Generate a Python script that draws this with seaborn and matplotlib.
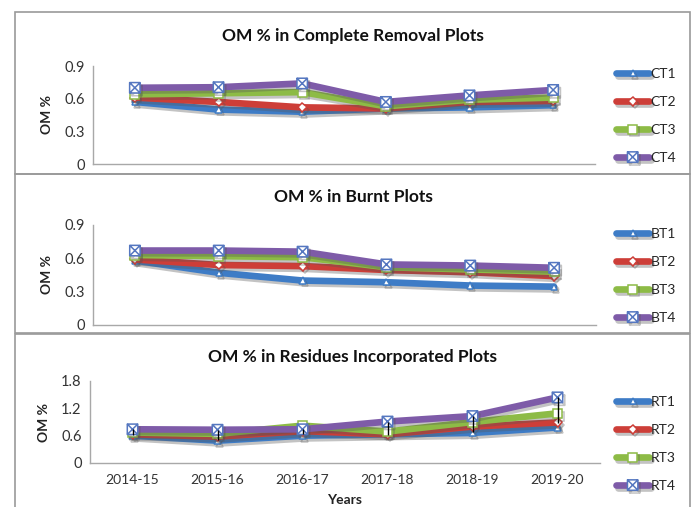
import numpy as np
import pandas as pd
import matplotlib
matplotlib.use("Agg")
import matplotlib.pyplot as plt
import matplotlib.patheffects as pe
from matplotlib.path import Path
from matplotlib.patches import Rectangle
import seaborn as sns

# ---------------- data ----------------
years = ["2014-15", "2015-16", "2016-17", "2017-18", "2018-19", "2019-20"]

ct1 = [0.57, 0.50, 0.48, 0.51, 0.52, 0.54]
ct2 = [0.61, 0.57, 0.52, 0.51, 0.57, 0.58]
ct3 = [0.64, 0.65, 0.66, 0.53, 0.59, 0.61]
ct4 = [0.70, 0.705, 0.74, 0.57, 0.63, 0.68]

bt1 = [0.58, 0.47, 0.40, 0.385, 0.355, 0.345]
bt2 = [0.59, 0.54, 0.53, 0.495, 0.475, 0.44]
bt3 = [0.63, 0.62, 0.61, 0.52, 0.50, 0.48]
bt4 = [0.67, 0.67, 0.66, 0.545, 0.535, 0.515]

rt1 = [0.60, 0.49, 0.60, 0.63, 0.66, 0.78]
rt2 = [0.63, 0.58, 0.70, 0.63, 0.80, 0.89]
rt3 = [0.67, 0.64, 0.82, 0.69, 0.90, 1.09]
rt4 = [0.74, 0.73, 0.74, 0.91, 1.03, 1.44]
rt4_err_low = [0.13, 0.22, 0.10, 0.30, 0.35, 0.56]

panels = [
    ("OM % in Complete Removal Plots", ["CT1", "CT2", "CT3", "CT4"], [ct1, ct2, ct3, ct4], [0, 0.3, 0.6, 0.9]),
    ("OM % in Burnt Plots", ["BT1", "BT2", "BT3", "BT4"], [bt1, bt2, bt3, bt4], [0, 0.3, 0.6, 0.9]),
    ("OM % in Residues Incorporated Plots", ["RT1", "RT2", "RT3", "RT4"], [rt1, rt2, rt3, rt4], [0, 0.6, 1.2, 1.8]),
]
ytick_labels = [["0", "0.3", "0.6", "0.9"], ["0", "0.3", "0.6", "0.9"], ["0", "0.6", "1.2", "1.8"]]

# ---------------- style ----------------
sns.set_theme(style="white")
plt.rcParams["font.family"] = ["Lato", "DejaVu Sans"]

colors = ["#3E7CC6", "#CD3E38", "#8DBB46", "#7E5BA8"]
boxx = Path([(-1, -1), (1, -1), (1, 1), (-1, 1), (-1, -1), (-1, -1), (1, 1), (-1, 1), (1, -1)],
            [Path.MOVETO, Path.LINETO, Path.LINETO, Path.LINETO, Path.CLOSEPOLY,
             Path.MOVETO, Path.LINETO, Path.MOVETO, Path.LINETO])
markers = ["^", "D", "s", boxx]
msizes = [4.5, 4.5, 6.5, 7.5]
medges = ["#3E7CC6", "#CD3E38", "#8DBB46", "#5577C0"]

W, H = 692, 507
fig = plt.figure(figsize=(W / 100, H / 100), dpi=100)


def px_axes(l, t, r, b):
    return fig.add_axes([l / W, 1 - b / H, (r - l) / W, (b - t) / H])


# panel frames
for (t, b) in [(12, 174), (174, 333), (334, 520)]:
    fig.patches.append(Rectangle((15 / W, 1 - b / H), (690 - 15) / W, (b - t) / H,
                                 transform=fig.transFigure, fill=False,
                                 edgecolor="#9A9A9A", lw=1.2, zorder=0))

axes_px = [(93, 66, 595, 164), (93, 225, 596, 325), (90, 381, 600, 463)]
title_y = [36, 197, 357]
legend_top = [68, 228, 396]

shadow = [pe.SimpleLineShadow(offset=(1.5, -2.0), shadow_color="#555555", alpha=0.35), pe.Normal()]

for i, (title, names, series, yt) in enumerate(panels):
    ax = px_axes(*axes_px[i])
    for j, (nm, vals) in enumerate(zip(names, series)):
        df = pd.DataFrame({"Year": years, "OM": vals})
        sns.lineplot(data=df, x="Year", y="OM", ax=ax, sort=False, color=colors[j],
                     lw=4.8, marker=markers[j], markersize=msizes[j],
                     markerfacecolor="white", markeredgecolor=medges[j],
                     markeredgewidth=1.1, label=nm, path_effects=shadow, zorder=2 + j)
    if i == 2:
        ax.errorbar(np.arange(len(years)), rt4, yerr=[rt4_err_low, [0] * len(years)],
                    fmt="none", ecolor="black", elinewidth=1.0, capsize=0, zorder=10)
    ax.set_xlim(-0.5, len(years) - 0.5)
    ax.set_ylim(yt[0], yt[-1])
    ax.set_yticks(yt)
    ax.set_yticklabels(ytick_labels[i], fontsize=10.5, color="#333333")
    ax.tick_params(axis="both", length=0, pad=6)
    if i < 2:
        ax.set_xticklabels([])
        ax.set_xlabel("")
    else:
        ax.set_xticks(range(len(years)))
        ax.set_xticklabels(years, fontsize=10, color="#333333")
        ax.tick_params(axis="x", pad=8)
        ax.set_xlabel("Years", fontsize=10, fontweight="bold", color="#222222", labelpad=6)
    ax.set_ylabel("OM %", fontsize=10, fontweight="bold", color="#222222", labelpad=8)
    for s in ["top", "right"]:
        ax.spines[s].set_visible(False)
    for s in ["left", "bottom"]:
        ax.spines[s].set_color("#A8A8A8")
        ax.spines[s].set_linewidth(1.0)
    fig.text(353 / W, 1 - title_y[i] / H, title, ha="center", va="center",
             fontsize=12.5, fontweight="bold", color="#111111")
    ax.legend(loc="upper left", bbox_to_anchor=(616 / W, 1 - legend_top[i] / H),
              bbox_transform=fig.transFigure, frameon=False, fontsize=10,
              handlelength=2.4, handletextpad=0.1, labelspacing=1.15,
              borderpad=0, borderaxespad=0)

fig.savefig("out.png", dpi=100)
